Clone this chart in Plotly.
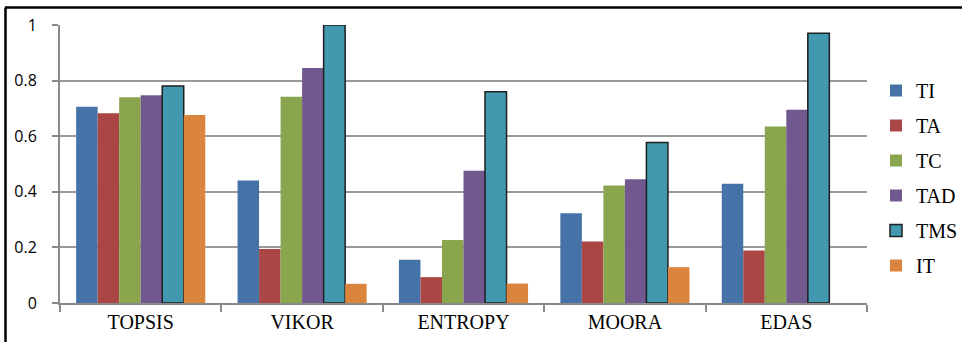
import plotly.graph_objects as go

categories = ["TOPSIS", "VIKOR", "ENTROPY", "MOORA", "EDAS"]
series_names = ["TI", "TA", "TC", "TAD", "TMS", "IT"]
TI = [0.706, 0.441, 0.156, 0.323, 0.429]
TA = [0.683, 0.194, 0.093, 0.221, 0.189]
TC = [0.740, 0.742, 0.227, 0.423, 0.635]
TAD = [0.747, 0.845, 0.476, 0.445, 0.695]
TMS = [0.781, 1.000, 0.760, 0.577, 0.970]
IT = [0.676, 0.069, 0.070, 0.129, None]
y_ticks = [0, 0.2, 0.4, 0.6, 0.8, 1]
y_tick_labels = ["0", "0.2", "0.4", "0.6", "0.8", "1"]

values = [TI, TA, TC, TAD, TMS, IT]
colors = ["#4572A7", "#AA4643", "#89A54E", "#71588F", "#4198AF", "#DB843D"]

SERIF = "Liberation Serif, Times New Roman, serif"

fig = go.Figure()
for name, vals, col in zip(series_names, values, colors):
    outline = dict(color="#1f1f1f", width=1.5) if name == "TMS" else dict(width=0)
    fig.add_trace(go.Bar(name=name, x=categories, y=vals,
                         marker=dict(color=col, line=outline),
                         legendgroup=name))

L, R, T, B = 60, 95, 25, 39
W, H = 962, 342
pw, ph = W - L - R, H - T - B

def px_x(p):
    return (p - L) / pw

def px_y(p):
    return (H - B - p) / ph

fig.update_layout(
    width=W, height=H,
    margin=dict(l=L, r=R, t=T, b=B, pad=0, autoexpand=False),
    paper_bgcolor="white", plot_bgcolor="white",
    barmode="group", bargap=0.2, bargroupgap=0,
    legend=dict(x=px_x(876), y=px_y(71), xanchor="left", yanchor="top",
                font=dict(family=SERIF, size=20, color="#000"),
                tracegroupgap=6, itemwidth=30, bgcolor="rgba(0,0,0,0)"),
    xaxis=dict(showline=True, linecolor="#8a8a8a", linewidth=2,
               ticks="outside", ticklen=7, tickcolor="#8a8a8a", tickwidth=1.5,
               tickson="boundaries",
               tickfont=dict(family=SERIF, size=20, color="#000"),
               showgrid=False, mirror=False),
    yaxis=dict(range=[0, 1], tickvals=y_ticks, ticktext=y_tick_labels,
               showline=True, linecolor="#8a8a8a", linewidth=2,
               ticks="outside", ticklen=6, tickcolor="#8a8a8a", tickwidth=1.5,
               ticklabelstandoff=12,
               tickfont=dict(family="Open Sans", size=16, color="#000"),
               showgrid=True, gridcolor="#9a9a9a", gridwidth=1.5,
               zeroline=False),
    shapes=[
        dict(type="line", xref="paper", yref="paper",
             x0=px_x(5), x1=px_x(962), y0=px_y(7.5), y1=px_y(7.5),
             line=dict(color="black", width=2.5)),
        dict(type="line", xref="paper", yref="paper",
             x0=px_x(5.5), x1=px_x(5.5), y0=px_y(7.5), y1=px_y(342),
             line=dict(color="black", width=2.5)),
    ],
)

fig.write_html("out.html", config={"displayModeBar": False},
               post_script="document.body.style.margin='0';document.body.style.overflow='hidden';")
